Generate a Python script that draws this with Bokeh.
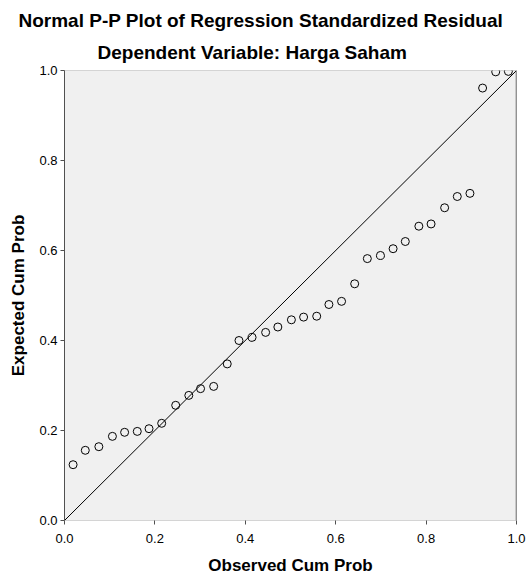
from bokeh.plotting import figure
from bokeh.models import Title, Span, FixedTicker, Range1d, NumeralTickFormatter, ColumnDataSource
from bokeh.embed import file_html
from bokeh.resources import INLINE

# Observed cumulative probability (x) and expected cumulative probability (y)
observed = [0.019, 0.046, 0.076, 0.106, 0.133, 0.161, 0.187, 0.215, 0.246, 0.275,
            0.301, 0.330, 0.360, 0.386, 0.415, 0.445, 0.472, 0.502, 0.529, 0.558,
            0.585, 0.613, 0.642, 0.670, 0.699, 0.727, 0.754, 0.784, 0.811, 0.841,
            0.869, 0.897, 0.925, 0.954, 0.982]
expected = [0.124, 0.156, 0.164, 0.187, 0.196, 0.198, 0.204, 0.216, 0.256, 0.278,
            0.293, 0.298, 0.348, 0.400, 0.407, 0.418, 0.430, 0.446, 0.452, 0.454,
            0.480, 0.487, 0.526, 0.582, 0.589, 0.604, 0.620, 0.654, 0.659, 0.695,
            0.720, 0.727, 0.961, 0.997, 0.998]
ref_line = [0.0, 1.0]
ticks = [0.0, 0.2, 0.4, 0.6, 0.8, 1.0]

FONT = "Liberation Sans"

p = figure(frame_width=452, frame_height=450,
           x_range=Range1d(0, 1), y_range=Range1d(0, 1),
           output_backend="svg", toolbar_location=None,
           min_border_left=64, min_border_right=11, min_border_top=70, min_border_bottom=56,
           background_fill_color="#f0f0f0", border_fill_color="white")
p.title.visible = False
p.grid.visible = False
p.outline_line_color = "#d4d4d4"
p.outline_line_width = 1

p.add_layout(Title(text="Dependent Variable: Harga Saham", align="left", offset=33,
                   text_font=FONT, text_font_size="19px", text_font_style="bold",
                   text_color="black", standoff=16), "above")
p.add_layout(Title(text="Normal P-P Plot of Regression Standardized Residual", align="left",
                   offset=-46,
                   text_font=FONT, text_font_size="19px", text_font_style="bold",
                   text_color="black", standoff=2), "above")

for ax in (p.xaxis[0], p.yaxis[0]):
    ax.ticker = FixedTicker(ticks=ticks)
    ax.formatter = NumeralTickFormatter(format="0.0")
    ax.axis_line_color = "#505050"
    ax.major_tick_line_color = "#505050"
    ax.major_tick_in = 0
    ax.major_tick_out = 4
    ax.minor_tick_line_color = None
    ax.major_label_text_font = FONT
    ax.major_label_text_font_size = "13px"
    ax.major_label_text_color = "black"
    ax.axis_label_text_font = FONT
    ax.axis_label_text_font_size = "17px"
    ax.axis_label_text_font_style = "bold"
    ax.axis_label_text_color = "black"

p.xaxis.axis_label = "Observed Cum Prob"
p.yaxis.axis_label = "Expected Cum Prob"
p.xaxis.axis_line_color = "#d4d4d4"
p.xaxis.major_label_standoff = 9
p.xaxis.axis_label_standoff = 10
p.yaxis.major_label_standoff = 3
p.yaxis.axis_label_standoff = 8
p.yaxis.major_label_orientation = "horizontal"

p.add_layout(Span(location=1.0, dimension="height", line_color="#505050", line_width=1.5))

p.line(ref_line, ref_line, line_color="black", line_width=1)

src = ColumnDataSource(dict(x=observed, y=expected))
p.scatter("x", "y", source=src, marker="circle", size=8, fill_color=None,
          line_color="black", line_width=1)

open("out.html", "w").write(file_html(p, INLINE))
